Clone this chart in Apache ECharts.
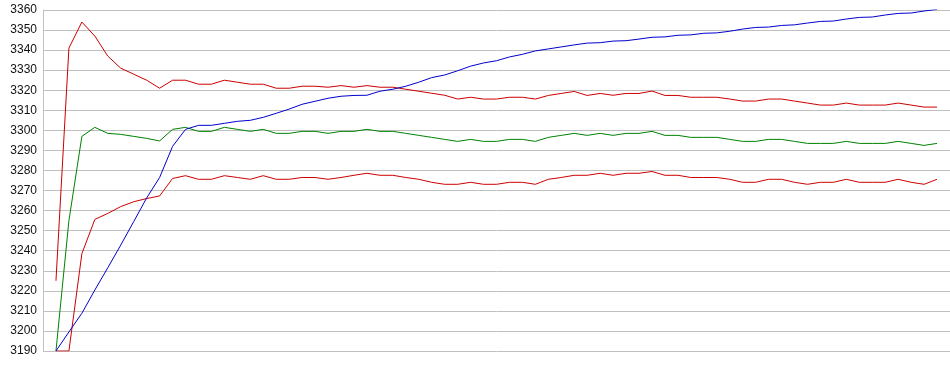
<!DOCTYPE html>
<html>
<head>
<meta charset="utf-8">
<script src="https://cdn.jsdelivr.net/npm/echarts@6/dist/echarts.min.js"></script>
<style>html,body{margin:0;padding:0;background:#fff}#c{width:950px;height:375px}</style>
</head>
<body>
<div id="c"></div>
<script>
// Sample index (1..69) on the x axis
const redTop = [3225,3341,3354,3347,3337,3331,3328,3325,3321,3325,3325,3323,3323,3325,3324,3323,3323,3321,3321,3322,3322,
  3321.5,3322.3,3321.5,3322.3,3321.5,3321.5,3320.5,3319.5,3318.5,3317.5,3315.6,3316.5,3315.6,3315.6,3316.5,3316.5,3315.6,3317.4,3318.4,3319.4,3317.4,3318.4,3317.5,3318.4,
  3318.4,3319.6,3317.4,3317.4,3316.5,3316.5,3316.5,3315.6,3314.6,3314.6,3315.6,3315.6,3314.6,3313.6,3312.6,3312.6,3313.6,3312.6,3312.6,3312.6,3313.6,3312.6,3311.6,3311.6];
const green = [3190,3255,3297,3301.5,3298.5,3298,3297,3296,3294.7,3300.5,3301.5,3299.5,3299.5,3301.5,3300.5,3299.5,3300.5,3298.5,3298.5,3299.5,3299.5,
  3298.5,3299.5,3299.5,3300.5,3299.5,3299.5,3298.5,3297.5,3296.5,3295.5,3294.5,3295.5,3294.5,3294.5,3295.5,3295.5,3294.5,3296.5,3297.5,3298.5,3297.5,3298.5,3297.5,3298.5,
  3298.5,3299.5,3297.5,3297.5,3296.5,3296.5,3296.5,3295.5,3294.5,3294.5,3295.5,3295.5,3294.5,3293.5,3293.5,3293.5,3294.5,3293.5,3293.5,3293.5,3294.5,3293.5,3292.5,3293.5];
const redBottom = [3190,3190,3238.5,3255.6,3258.6,3262,3264.4,3266,3267.3,3276,3277.4,3275.6,3275.6,3277.4,3276.5,3275.6,3277.4,3275.6,3275.6,3276.5,3276.5,
  3275.6,3276.5,3277.6,3278.6,3277.6,3277.6,3276.5,3275.6,3274.1,3273.1,3273.1,3274.1,3273.1,3273.1,3274.1,3274.1,3273.1,3275.6,3276.5,3277.6,3277.6,3278.6,3277.6,3278.6,
  3278.6,3279.5,3277.6,3277.6,3276.5,3276.5,3276.5,3275.6,3274.1,3274.1,3275.6,3275.6,3274.1,3273.1,3274.1,3274.1,3275.6,3274.1,3274.1,3274.1,3275.6,3274.1,3273.1,3275.6];
const blue = [3190,3199.5,3208.8,3220.4,3231.5,3242.8,3254.5,3266.3,3276.5,3292,3300.5,3302.5,3302.5,3303.5,3304.5,3305,3306.5,3308.5,3310.6,3313,3314.5,
  3316,3317,3317.4,3317.5,3319.5,3320.5,3322,3324,3326.3,3327.6,3329.7,3332,3333.6,3334.7,3336.6,3337.9,3339.6,3340.6,3341.6,3342.6,3343.5,3343.7,3344.5,3344.7,
  3345.5,3346.4,3346.6,3347.4,3347.6,3348.4,3348.6,3349.4,3350.5,3351.3,3351.5,3352.3,3352.6,3353.5,3354.3,3354.5,3355.5,3356.3,3356.5,3357.5,3358.3,3358.5,3359.5,3360.3];
const yTicks = [3190,3200,3210,3220,3230,3240,3250,3260,3270,3280,3290,3300,3310,3320,3330,3340,3350,3360];

const toPts = arr => arr.map((v, i) => [i + 1, v]);
const mk = (name, arr, color) => ({
  name, type: 'line', data: toPts(arr), symbol: 'none', smooth: false,
  lineStyle: { color, width: 1 }, itemStyle: { color }, z: 3
});

const chart = echarts.init(document.getElementById('c'), null, { renderer: 'canvas' });
chart.setOption({
  animation: false,
  backgroundColor: '#fff',
  grid: { left: 43, right: 0, top: 10, bottom: 24, containLabel: false },
  xAxis: {
    type: 'value', min: 0, max: 70,
    axisLine: { show: false }, axisTick: { show: false }, axisLabel: { show: false }, splitLine: { show: false }
  },
  yAxis: {
    type: 'value', min: yTicks[0], max: yTicks[yTicks.length - 1], interval: 10,
    axisLine: { show: true, lineStyle: { color: '#c0c0c0', width: 1 } },
    axisTick: { show: false },
    axisLabel: { color: '#111', fontFamily: 'Liberation Sans, Arial, sans-serif', fontSize: 12, margin: 6,
      formatter: v => String(v) },
    splitLine: { show: true, lineStyle: { color: '#c0c0c0', width: 1 } }
  },
  series: [
    mk('A', redTop, '#cc0000'),
    mk('B', green, '#008000'),
    mk('C', redBottom, '#cc0000'),
    mk('D', blue, '#0000cc')
  ]
});
</script>
</body>
</html>
